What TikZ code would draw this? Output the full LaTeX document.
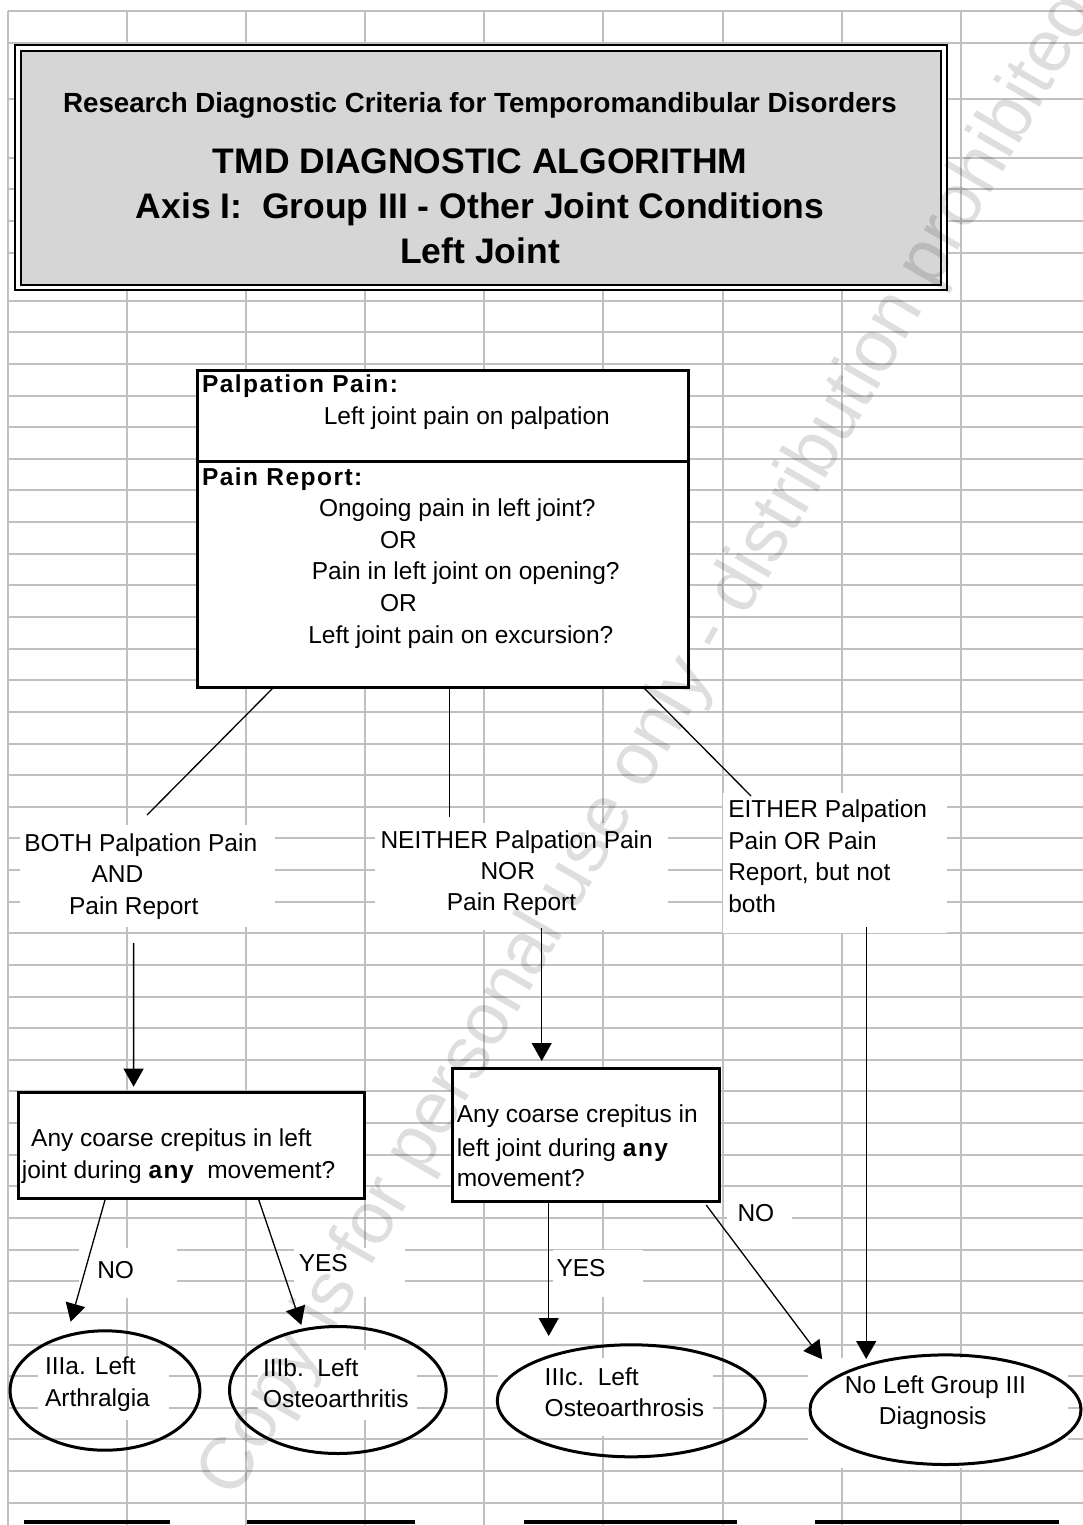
\documentclass[tikz,border=0pt]{standalone}
\usepackage{fontspec}
\setmainfont{Liberation Sans}
\newfontfamily\spacedsans[LetterSpace=6]{Liberation Sans}
\usetikzlibrary{arrows.meta,shapes.geometric}
\definecolor{gridgray}{RGB}{192,192,192}
\definecolor{titlefill}{RGB}{214,214,214}
\newcommand\lblsize{\fontsize{24.5}{29}\selectfont}
\newcommand\bspaced[1]{{\spacedsans\bfseries #1}}

\begin{document}
\begin{tikzpicture}[x=1pt,y=-1pt,
  every node/.style={outer sep=0pt},
  gridline/.style={draw=gridgray,line width=2pt},
  txt/.style={anchor=base west,inner sep=0pt,font=\lblsize},
  ttl/.style={anchor=base,inner sep=0pt},
  boxnode/.style={draw=black,fill=white,line width=3pt,anchor=north west,inner sep=0pt},
  bgnode/.style={fill=white,anchor=north west,inner sep=0pt},
  ell/.style={ellipse,draw=black,line width=3pt,inner sep=0pt},
  conn/.style={line width=1.3pt},
  arr/.style={conn,-{Triangle[width=20pt,length=18pt]}},
  bar/.style={line width=4pt}]

\useasboundingbox (0,0) rectangle (1083,1525);

% spreadsheet grid
\foreach \gx in {7.6,126.7,245.9,365,483.8,603.4,722.5,841.6,960.7}
  \draw[gridline] (\gx,11) -- (\gx,1525);
\foreach \gy in {11,42.7,99.3,157.7,189.3,221,253.3}
  \draw[gridline] (7.6,\gy) -- (1083,\gy);
\foreach \k in {0,...,38}
  \draw[gridline] (7.6,{300.7+31.63*\k}) -- (1083,{300.7+31.63*\k});

% title panel
\node[draw=black,line width=2pt,double=white,double distance=3.8pt,fill=titlefill,
      anchor=north west,minimum width=926pt,minimum height=239pt,inner sep=0pt]
      (title) at (17.75,48.4) {};
\node[ttl,font=\fontsize{27.7}{32}\selectfont\bfseries] (t1) at (480,112.3)
  {Research Diagnostic Criteria for Temporomandibular Disorders};
\node[ttl,font=\fontsize{35.5}{42}\selectfont\bfseries] (t2) at (480,173.3)
  {TMD DIAGNOSTIC ALGORITHM};
\node[ttl,font=\fontsize{35.5}{42}\selectfont\bfseries] (t3) at (480,218.3)
  {Axis I:\ \ Group III - Other Joint Conditions};
\node[ttl,font=\fontsize{35.5}{42}\selectfont\bfseries] (t4) at (480,263.3)
  {Left Joint};

% white label areas
\node[bgnode,minimum width=255pt,minimum height=102pt] (both) at (20,825) {};
\node[bgnode,minimum width=293pt,minimum height=107pt] (neither) at (375,823) {};
\node[bgnode,minimum width=224pt,minimum height=140pt] (either) at (723,793) {};
\node[bgnode,minimum width=98pt,minimum height=50pt] (noLbg) at (79,1248) {};
\node[bgnode,minimum width=111pt,minimum height=49pt] (yesLbg) at (294,1248) {};
\node[bgnode,minimum width=90pt,minimum height=47pt] (yesMbg) at (553,1250) {};
\node[bgnode,minimum width=65pt,minimum height=44pt] (noMbg) at (727,1196) {};
\fill[white] (38,1357) rectangle (169,1420);
\fill[white] (258,1350) rectangle (417,1420);
\fill[white] (498,1358) rectangle (713,1436);
\fill[white] (808,1358) rectangle (1068,1468);

% question boxes
\node[boxnode,minimum width=490.5pt,minimum height=316.5pt] (mainbox) at (197.5,370.5) {};
\draw[line width=3pt] ([yshift=-90.5pt]mainbox.north west) -- ([yshift=-90.5pt]mainbox.north east);
\node[boxnode,minimum width=345.5pt,minimum height=106pt] (leftbox) at (18.7,1092.5) {};
\node[boxnode,minimum width=266.7pt,minimum height=133pt] (midbox) at (452.5,1068.8) {};

% diagnosis ellipses
\node[ell,minimum width=189.8pt,minimum height=119.4pt] (IIIa) at (105,1390.5) {};
\node[ell,minimum width=216.6pt,minimum height=127pt] (IIIb) at (337.8,1390) {};
\node[ell,minimum width=268pt,minimum height=112pt] (IIIc) at (631.3,1400.8) {};
\node[ell,minimum width=271pt,minimum height=109.6pt] (noLeft) at (945.5,1409.7) {};

% box texts
\node[txt] (ppH) at (202,392.7) {\bspaced{Palpation Pain:}};
\node[txt] (pp1) at (323.8,424) {Left joint pain on palpation};
\node[txt] (prH) at (202,485.7) {\bspaced{Pain Report:}};
\node[txt] (pr1) at (319,516) {Ongoing pain in left joint?};
\node[txt] (pr2) at (380,548.3) {OR};
\node[txt] (pr3) at (311.8,579.3) {Pain in left joint on opening?};
\node[txt] (pr4) at (380,611.3) {OR};
\node[txt] (pr5) at (308.3,643.3) {Left joint pain on excursion?};

\node[txt] (bothA) at (24.3,851.7) {BOTH Palpation Pain};
\node[txt] (bothB) at (91.5,882.7) {AND};
\node[txt] (bothC) at (69.1,914.5) {Pain Report};
\node[txt] (neiA) at (380.5,848.3) {NEITHER Palpation Pain};
\node[txt] (neiB) at (480.5,879.3) {NOR};
\node[txt] (neiC) at (446.8,910.7) {Pain Report};
\node[txt] (eitA) at (728.3,817.5) {EITHER Palpation};
\node[txt] (eitB) at (728.3,849.2) {Pain OR Pain};
\node[txt] (eitC) at (728.3,880.5) {Report, but not};
\node[txt] (eitD) at (728.3,912.3) {both};

\node[txt] (lq1) at (31.2,1146.5) {Any coarse crepitus in left};
\node[txt] (lq2) at (21.9,1178.3) {joint during \bspaced{any}\ \ movement?};
\node[txt] (mq1) at (456.8,1122.7) {Any coarse crepitus in};
\node[txt] (mq2) at (456.8,1156) {left joint during \bspaced{any}};
\node[txt] (mq3) at (456.8,1186) {movement?};

\node[txt] (noL) at (97.3,1278.3) {NO};
\node[txt] (yesL) at (298.8,1271.7) {YES};
\node[txt] (yesM) at (556.5,1276.7) {YES};
\node[txt] (noM) at (737.5,1221.7) {NO};

\node[txt] (aA) at (45,1374.3) {IIIa. Left};
\node[txt] (aB) at (45,1406) {Arthralgia};
\node[txt] (bA) at (263,1376) {IIIb.\ \ Left};
\node[txt] (bB) at (263,1407.3) {Osteoarthritis};
\node[txt] (cA) at (544.7,1385) {IIIc.\ \ Left};
\node[txt] (cB) at (544.7,1416.7) {Osteoarthrosis};
\node[txt] (dA) at (844.9,1393.3) {No Left Group III};
\node[txt] (dB) at (878.9,1424) {Diagnosis};

% connectors
\draw[conn] ([xshift=-168.75pt]mainbox.south) -- ([xshift=-0.5pt,yshift=10pt]both.north);
\draw[conn] ([xshift=6.75pt]mainbox.south) -- ([xshift=-72pt,yshift=6pt]neither.north);
\draw[conn] ([xshift=200.25pt]mainbox.south) -- ([xshift=28pt,yshift=-3pt]either.north west);
\draw[arr] ([xshift=-13.9pt,yshift=-16pt]both.south) -- ([xshift=-57.85pt,yshift=5.8pt]leftbox.north);
\draw[arr] ([xshift=20.2pt,yshift=2pt]neither.south) -- ([xshift=-44.15pt,yshift=7.8pt]midbox.north);
\draw[arr] ([xshift=31.2pt,yshift=6pt]either.south) -- ([xshift=-79.3pt,yshift=-4.1pt]noLeft.north);
\draw[arr] ([xshift=-86.45pt,yshift=-1.5pt]leftbox.south) -- ([xshift=-34.4pt,yshift=9.1pt]IIIa.north);
\draw[arr] ([xshift=66.85pt]leftbox.south) -- ([xshift=-36.5pt,yshift=1.5pt]IIIb.north);
\draw[arr] ([xshift=-37.15pt]midbox.south) -- ([xshift=-82.6pt,yshift=8.8pt]IIIc.north);
\draw[arr] ([xshift=-13pt,yshift=-3.2pt]midbox.south east) -- ([xshift=-123.3pt,yshift=-4.4pt]noLeft.north);

% bottom rules
\draw[bar] (24,1522) -- (170,1522);
\draw[bar] (247,1522) -- (415,1522);
\draw[bar] (524,1522) -- (737,1522);
\draw[bar] (815,1522) -- (1059,1522);

% watermark
\node[rotate=60,inner sep=0pt,text=black,text opacity=0.13,
      font=\fontsize{74}{80}\selectfont] (wm) at (650,745)
  {Copy is for personal use only - distribution prohibited};
\end{tikzpicture}
\end{document}
